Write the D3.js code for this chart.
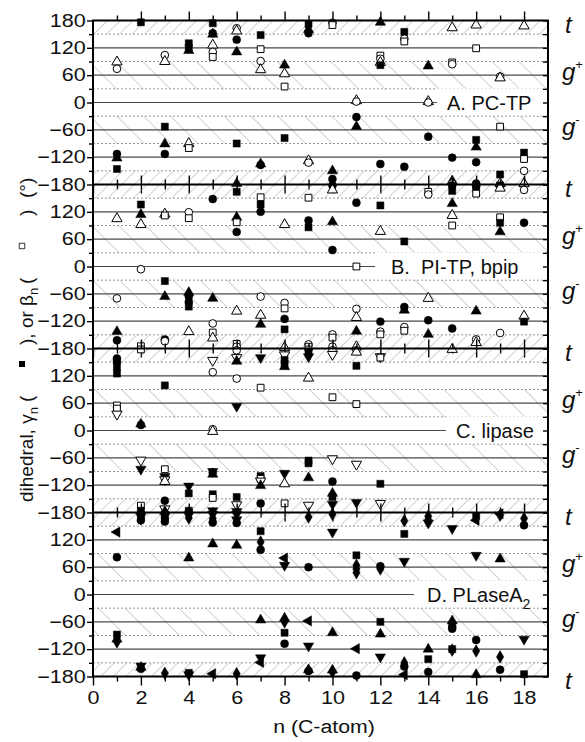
<!DOCTYPE html>
<html>
<head>
<meta charset="utf-8">
<script src="https://cdn.jsdelivr.net/npm/d3@7"></script>
<style>
body { margin: 0; background: #fff; }
text { font-family: "Liberation Sans", Arial, sans-serif; fill: #111; }
</style>
</head>
<body>
<svg id="chart" width="585" height="742"></svg>
<script>
// values: [n, dihedral, marker]
// markers: sq/osq square, ci/oci circle, tu/otu triangle up, td/otd triangle down, di diamond, tl triangle left
var pctp = [
  [1,89,"otu"],[1,74,"oci"],[1,-113,"ci"],[1,-122,"tu"],[1,-146,"sq"],
  [2,176,"sq"],
  [3,104,"oci"],[3,90,"otu"],[3,-53,"sq"],[3,-91,"tu"],[3,-113,"ci"],
  [4,130,"sq"],[4,120,"sq"],[4,114,"tu"],[4,-90,"otu"],[4,-100,"osq"],
  [5,174,"sq"],[5,152,"ci"],[5,150,"tu"],[5,126,"otu"],[5,111,"oci"],[5,100,"osq"],
  [6,163,"oci"],[6,157,"otu"],[6,138,"ci"],[6,111,"tu"],[6,-90,"sq"],[6,-178,"tu"],
  [7,148,"sq"],[7,117,"osq"],[7,91,"oci"],[7,72,"otu"],[7,-137,"ci"],[7,-135,"tu"],
  [8,82,"tu"],[8,63,"otu"],[8,35,"osq"],[8,-78,"sq"],
  [9,172,"sq"],[9,160,"tu"],[9,152,"ci"],[9,-128,"otu"],[9,-132,"oci"],
  [10,175,"oci"],[10,170,"osq"],[10,-150,"tu"],[10,-168,"ci"],
  [11,4,"otu"],[11,2,"oci"],[11,-32,"ci"],[11,-53,"tu"],
  [12,176,"tu"],[12,103,"osq"],[12,96,"oci"],[12,88,"otu"],[12,82,"sq"],[12,-135,"ci"],
  [13,155,"sq"],[13,140,"oci"],[13,134,"osq"],[13,-141,"ci"],
  [14,80,"tu"],[14,2,"otu"],[14,0,"oci"],[14,-75,"ci"],
  [15,164,"otu"],[15,88,"osq"],[15,84,"oci"],[15,-121,"ci"],[15,-172,"tu"],[15,-178,"oci"],
  [16,170,"otu"],[16,119,"osq"],[16,-82,"sq"],[16,-98,"tu"],[16,-131,"ci"],[16,-178,"ci"],
  [17,57,"oci"],[17,54,"otu"],[17,-53,"osq"],[17,-158,"sq"],[17,-178,"otu"],
  [18,168,"otu"],[18,-110,"sq"],[18,-124,"osq"],[18,-150,"oci"],[18,-178,"otu"]
];
var pitp = [
  [1,105,"otu"],[1,-70,"oci"],[1,-143,"tu"],[1,-162,"ci"],
  [2,136,"sq"],[2,114,"tu"],[2,92,"otu"],[2,-6,"oci"],[2,-175,"osq"],
  [3,115,"otu"],[3,112,"osq"],[3,-32,"sq"],[3,-66,"tu"],[3,-160,"ci"],[3,-164,"oci"],
  [4,119,"oci"],[4,106,"osq"],[4,-57,"tu"],[4,-66,"ci"],[4,-78,"ci"],[4,-88,"sq"],[4,-143,"otu"],
  [5,148,"ci"],[5,-70,"tu"],[5,-125,"oci"],[5,-145,"osq"],[5,-157,"otu"],
  [6,164,"sq"],[6,108,"tu"],[6,97,"osq"],[6,76,"ci"],[6,-98,"otu"],[6,-170,"osq"],[6,-176,"oci"],
  [7,152,"osq"],[7,136,"sq"],[7,120,"ci"],[7,-66,"oci"],[7,-107,"otu"],[7,-127,"tu"],
  [8,92,"otu"],[8,-80,"oci"],[8,-92,"osq"],[8,-115,"ci"],[8,-138,"sq"],[8,-178,"otu"],
  [9,151,"osq"],[9,101,"ci"],[9,86,"sq"],[9,-171,"oci"],[9,-176,"osq"],
  [10,178,"ci"],[10,168,"otu"],[10,98,"tu"],[10,36,"ci"],[10,-149,"oci"],[10,-156,"osq"],[10,-176,"oci"],
  [11,140,"ci"],[11,0,"osq"],[11,-93,"oci"],[11,-112,"otu"],[11,-142,"tu"],[11,-176,"otu"],
  [12,134,"sq"],[12,77,"otu"],[12,-121,"ci"],[12,-143,"oci"],[12,-149,"osq"],
  [13,55,"sq"],[13,-89,"ci"],[13,-96,"tu"],[13,-133,"oci"],[13,-141,"osq"],
  [14,164,"osq"],[14,158,"oci"],[14,-70,"otu"],[14,-118,"ci"],[14,-149,"tu"],
  [15,178,"ci"],[15,166,"sq"],[15,138,"tu"],[15,112,"otu"],[15,90,"osq"],[15,-136,"ci"],
  [16,176,"ci"],[16,172,"sq"],[16,160,"osq"],[16,-98,"tu"],[16,-160,"oci"],[16,-167,"otu"],
  [17,178,"sq"],[17,172,"otu"],[17,108,"osq"],[17,96,"sq"],[17,76,"tu"],[17,-146,"oci"],
  [18,168,"oci"],[18,96,"ci"],[18,-109,"otu"],[18,-121,"sq"]
];
var lipase = [
  [1,158,"ci"],[1,151,"ci"],[1,139,"sq"],[1,125,"sq"],[1,55,"osq"],[1,48,"osq"],[1,36,"otd"],
  [2,178,"osq"],[2,14,"tu"],[2,12,"ci"],[2,-65,"otd"],[2,-85,"td"],[2,-165,"osq"],[2,-176,"sq"],
  [3,99,"sq"],[3,-85,"osq"],[3,-101,"td"],[3,-108,"otd"],[3,-112,"otu"],[3,-154,"ci"],[3,-172,"otd"],[3,-178,"tu"],
  [4,-122,"td"],[4,-138,"sq"],[4,-176,"osq"],[4,-178,"ci"],
  [5,154,"otd"],[5,128,"oci"],[5,3,"oci"],[5,-2,"otu"],[5,-90,"td"],[5,-92,"ci"],[5,-96,"tu"],[5,-140,"sq"],[5,-148,"osq"],[5,-176,"td"],
  [6,176,"oci"],[6,160,"otd"],[6,152,"tu"],[6,114,"oci"],[6,53,"td"],[6,-146,"sq"],[6,-163,"otd"],[6,-178,"td"],
  [7,160,"td"],[7,94,"osq"],[7,-100,"sq"],[7,-106,"osq"],[7,-111,"otd"],[7,-121,"tu"],[7,-160,"ci"],
  [8,166,"otd"],[8,155,"sq"],[8,146,"sq"],[8,140,"tu"],[8,-94,"td"],[8,-117,"otu"],[8,-160,"osq"],
  [9,178,"oci"],[9,172,"sq"],[9,162,"td"],[9,115,"otu"],[9,-66,"sq"],[9,-72,"sq"],[9,-104,"tu"],[9,-164,"otd"],
  [10,176,"oci"],[10,167,"otd"],[10,73,"osq"],[10,-62,"otd"],[10,-112,"ci"],[10,-138,"tu"],[10,-146,"sq"],[10,-162,"td"],
  [11,176,"oci"],[11,172,"otu"],[11,142,"sq"],[11,58,"osq"],[11,-74,"otd"],[11,-158,"td"],
  [12,162,"otd"],[12,160,"osq"],[12,-117,"sq"],[12,-160,"otd"],
  [15,178,"otu"]
];
var plase = [
  [1,137,"tl"],[1,82,"ci"],[1,-88,"sq"],[1,-98,"tu"],[1,-104,"di"],
  [2,176,"sq"],[2,171,"td"],[2,166,"di"],[2,163,"ci"],[2,-157,"td"],[2,-160,"tu"],[2,-163,"ci"],
  [3,176,"sq"],[3,171,"sq"],[3,167,"di"],[3,160,"ci"],[3,-173,"di"],
  [4,174,"td"],[4,168,"di"],[4,80,"tu"],[4,-172,"sq"],[4,-176,"td"],
  [5,176,"td"],[5,167,"di"],[5,158,"ci"],[5,111,"tu"],[5,-174,"tl"],
  [6,176,"td"],[6,164,"td"],[6,157,"ci"],[6,108,"tu"],[6,-174,"di"],
  [7,139,"sq"],[7,115,"di"],[7,98,"ci"],[7,-56,"tu"],[7,-139,"td"],[7,-149,"tl"],
  [8,80,"tl"],[8,64,"td"],[8,-52,"tu"],[8,-60,"di"],[8,-84,"sq"],[8,-108,"ci"],
  [9,170,"di"],[9,60,"ci"],[9,-58,"tl"],[9,-113,"td"],[9,-165,"tu"],[9,-168,"ci"],
  [10,176,"di"],[10,137,"td"],[10,-84,"tu"],[10,-166,"tu"],[10,-170,"di"],
  [11,86,"sq"],[11,64,"di"],[11,56,"di"],[11,48,"di"],[11,-119,"tl"],[11,-178,"ci"],
  [12,62,"ci"],[12,56,"di"],[12,-60,"sq"],[12,-87,"tu"],[12,-137,"td"],
  [13,162,"di"],[13,133,"sq"],[13,73,"td"],[13,-150,"di"],[13,-158,"ci"],[13,-176,"tl"],
  [14,172,"di"],[14,164,"di"],[14,157,"td"],[14,-120,"tu"],[14,-142,"sq"],[14,-170,"ci"],
  [15,145,"td"],[15,-58,"tu"],[15,-70,"ci"],[15,-75,"ci"],[15,-120,"sq"],[15,-122,"di"],
  [16,172,"sq"],[16,163,"tl"],[16,86,"td"],[16,-100,"ci"],[16,-124,"di"],[16,-176,"tu"],
  [17,177,"tl"],[17,174,"di"],[17,78,"tu"],[17,-137,"di"],[17,-165,"ci"],
  [18,167,"di"],[18,152,"ci"],[18,-98,"td"],[18,-175,"sq"]
];
var panelData = [pctp, pitp, lipase, plase];
var panelLabels = ["A. PC-TP", "B.\u00a0 PI-TP, bpip", "C. lipase", "D. PLaseA"];
var xMajor = [0, 2, 4, 6, 8, 10, 12, 14, 16, 18];
var xMinor = [1, 3, 5, 7, 9, 11, 13, 15, 17];
var yLabelled = [-180, -120, -60, 0, 60, 120, 180];
var yMinor = [-150, -90, -30, 30, 90, 150];
var solidLevels = [-120, -60, 0, 60, 120];
var dashLevels = [-150, -90, -30, 30, 90, 150];
var zones = [[150, 180, "t"], [-180, -150, "t"], [30, 90, "g"], [-90, -30, "g"]];

var svg = d3.select("#chart");
var left = 93, right = 548, top0 = 20.5, panelH = 164;
var labelX = [447, 391, 456, 427];
var boxX = [437, 375, 446, 414];

var x = d3.scaleLinear().domain([0, 19]).range([left, right]);

// hatch patterns
var defs = svg.append("defs");
function hatch(id, gap, angle) {
  var p = defs.append("pattern").attr("id", id)
    .attr("patternUnits", "userSpaceOnUse")
    .attr("width", gap).attr("height", gap)
    .attr("patternTransform", "rotate(" + angle + ")");
  p.append("line").attr("x1", 0).attr("y1", 0).attr("x2", 0).attr("y2", gap)
    .attr("stroke", "#9a9a9a").attr("stroke-width", 0.9);
}
hatch("hatchT", 9, 45);
hatch("hatchG", 19, -45);

var shapes = {
  sq: [d3.symbolSquare, 50, 0, 1], osq: [d3.symbolSquare, 46, 0, 0],
  ci: [d3.symbolCircle, 50, 0, 1], oci: [d3.symbolCircle, 46, 0, 0],
  tu: [d3.symbolTriangle, 46, 0, 1], otu: [d3.symbolTriangle, 46, 0, 0],
  td: [d3.symbolTriangle, 46, 180, 1], otd: [d3.symbolTriangle, 46, 180, 0],
  di: [d3.symbolDiamond, 46, 0, 1], tl: [d3.symbolTriangle, 46, -90, 1]
};

panelData.forEach(function(data, i) {
  var top = top0 + i * panelH;
  var y = d3.scaleLinear().domain([-180, 180]).range([top + panelH, top]);
  var g = svg.append("g");

  g.selectAll(".zone").data(zones).enter().append("rect")
    .attr("x", left).attr("width", right - left)
    .attr("y", function(d) { return y(d[1]); })
    .attr("height", function(d) { return y(d[0]) - y(d[1]); })
    .attr("fill", function(d) { return d[2] == "t" ? "url(#hatchT)" : "url(#hatchG)"; });

  g.selectAll(".dash").data(dashLevels).enter().append("line")
    .attr("x1", left).attr("x2", right)
    .attr("y1", function(d) { return y(d); }).attr("y2", function(d) { return y(d); })
    .attr("stroke", "#8a8a8a").attr("stroke-width", 0.9).attr("stroke-dasharray", "2,2");

  g.selectAll(".solid").data(solidLevels).enter().append("line")
    .attr("x1", left).attr("x2", right)
    .attr("y1", function(d) { return y(d); }).attr("y2", function(d) { return y(d); })
    .attr("stroke", "#4a4a4a").attr("stroke-width", 1.1);

  // label box
  g.append("rect").attr("x", boxX[i]).attr("y", y(31))
    .attr("width", right - boxX[i]).attr("height", y(-28) - y(31)).attr("fill", "#fff");
  var lab = g.append("text").attr("x", labelX[i]).attr("y", y(0) + 7)
    .style("font-size", "20px").text(panelLabels[i]);
  if (i == 3) lab.append("tspan").attr("dy", 7).style("font-size", "14px").text("2");

  // markers
  g.selectAll(".pt").data(data).enter().append("path")
    .attr("d", function(d) { var s = shapes[d[2]]; return d3.symbol().type(s[0]).size(s[1])(); })
    .attr("transform", function(d) {
      return "translate(" + x(d[0]) + "," + y(d[1]) + ") rotate(" + shapes[d[2]][2] + ")";
    })
    .attr("fill", function(d) { return shapes[d[2]][3] ? "#000" : "#fff"; })
    .attr("stroke", "#000").attr("stroke-width", function(d) { return shapes[d[2]][3] ? 0.5 : 1; });

  // axes
  var ly = g.append("g").attr("transform", "translate(" + left + ",0)")
    .call(d3.axisLeft(y).tickValues(i == 0 ? yLabelled : yLabelled.slice(0, 6))
      .tickSize(6).tickPadding(0).tickFormat(d3.format("d")));
  ly.selectAll("text").attr("transform", "scale(1.2,1)").style("font-size", "18px");
  g.append("g").attr("transform", "translate(" + left + ",0)")
    .call(d3.axisLeft(y).tickValues(yMinor).tickSize(4).tickFormat(""));
  g.append("g").attr("transform", "translate(" + right + ",0)")
    .call(d3.axisLeft(y).tickValues(yLabelled.concat(yMinor)).tickSize(5).tickFormat(""));

  g.append("g").attr("transform", "translate(0," + top + ")")
    .call(d3.axisTop(x).tickValues(xMajor.slice(1)).tickSize(9).tickFormat(""));
  g.append("g").attr("transform", "translate(0," + top + ")")
    .call(d3.axisTop(x).tickValues(xMinor).tickSize(5).tickFormat(""));
  var bx = g.append("g").attr("transform", "translate(0," + (top + panelH) + ")")
    .call(d3.axisBottom(x).tickValues(xMajor).tickSize(9).tickPadding(6)
      .tickFormat(i == 3 ? d3.format("d") : ""));
  bx.selectAll("text").attr("transform", "scale(1.2,1)").style("font-size", "18px");
  g.append("g").attr("transform", "translate(0," + (top + panelH) + ")")
    .call(d3.axisBottom(x).tickValues(xMinor).tickSize(5).tickFormat(""));

  // side state labels
  var side = g.append("g").style("font-style", "italic");
  side.append("text").attr("x", 565).attr("y", top + 12).style("font-size", "24px").text("t");
  [[60, "+"], [-60, "-"]].forEach(function(s) {
    var t = side.append("text").attr("x", 562).attr("y", y(s[0]) + 5).style("font-size", "24px").text("g");
    t.append("tspan").attr("dy", -11).style("font-size", "13px").style("font-style", "normal").text(s[1]);
  });
  if (i == 3) side.append("text").attr("x", 565).attr("y", top + panelH + 12).style("font-size", "24px").text("t");
});

svg.selectAll(".domain").remove();
svg.selectAll(".tick line").attr("stroke", "#000").attr("stroke-width", 1.4);
svg.selectAll(".tick text").attr("fill", "#111");

// frame and panel borders
d3.range(5).forEach(function(k) {
  svg.append("line").attr("x1", left - 1).attr("x2", right + 1)
    .attr("y1", top0 + k * panelH).attr("y2", top0 + k * panelH)
    .attr("stroke", "#000").attr("stroke-width", 2);
});
[left, right].forEach(function(xx) {
  svg.append("line").attr("x1", xx).attr("x2", xx)
    .attr("y1", top0).attr("y2", top0 + 4 * panelH)
    .attr("stroke", "#000").attr("stroke-width", 2);
});

// axis titles
svg.append("text").attr("transform", "translate(324,733) scale(1.12,1)")
  .attr("text-anchor", "middle").style("font-size", "19px").text("n (C-atom)");

var yt = svg.append("g").attr("transform", "translate(33,502) rotate(-90)").style("font-size", "19px");
var t1 = yt.append("text").attr("x", 0).attr("y", 0).text("dihedral, \u03b3");
t1.append("tspan").attr("dy", 5).style("font-size", "13px").text("n");
yt.append("text").attr("x", 100).attr("y", 0).text("(");
yt.append("path").attr("d", d3.symbol().type(d3.symbolSquare).size(36)())
  .attr("transform", "translate(138,-11)").attr("fill", "#000");
var t2 = yt.append("text").attr("x", 157).attr("y", 0).text("), or \u03b2");
t2.append("tspan").attr("dy", 5).style("font-size", "13px").text("n");
yt.append("text").attr("x", 218).attr("y", 0).text("(");
yt.append("path").attr("d", d3.symbol().type(d3.symbolSquare).size(30)())
  .attr("transform", "translate(256,-11)").attr("fill", "#fff").attr("stroke", "#000").attr("stroke-width", 0.8);
yt.append("text").attr("x", 286).attr("y", 0).text(")");
yt.append("text").attr("x", 304).attr("y", 0).text("(\u00b0)");
</script>
</body>
</html>
